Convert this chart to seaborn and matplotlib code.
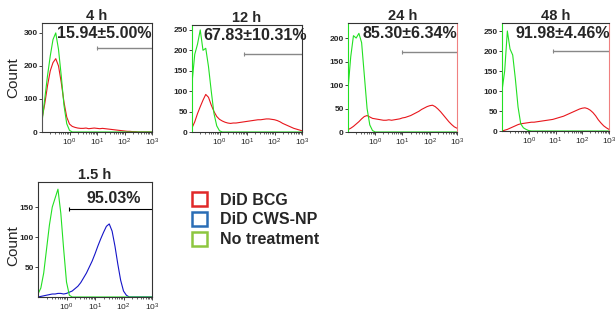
import numpy as np
import pandas as pd
import matplotlib.pyplot as plt
import seaborn as sns
from matplotlib.patches import Patch
from matplotlib.ticker import LogLocator, LogFormatterMathtext, FixedLocator

sns.set_theme(style='white')
plt.rcParams['font.family'] = ['Liberation Sans', 'DejaVu Sans']
plt.rcParams['mathtext.fontset'] = 'custom'
plt.rcParams['mathtext.rm'] = 'Liberation Sans'

# fluorescence bins, log10 units from -1 to 3 in 0.1 steps
log_bins = np.round(np.linspace(-1.0, 3.0, 41), 1)

titles = ['4 h', '12 h', '24 h', '48 h']
percent_labels = ['15.94\u00b15.00%', '67.83\u00b110.31%', '85.30\u00b16.34%', '91.98\u00b14.46%']

green_4h = [30, 100, 170, 230, 280, 300, 250, 170, 80, 25, 5] + [0] * 30
red_4h = [40, 85, 140, 185, 210, 222, 200, 150, 90, 45, 24, 17, 14, 12, 11, 11, 12, 10, 11, 12,
          11, 10, 11, 10, 9, 8, 7, 6, 5, 4, 3, 2, 2, 1, 1, 0, 0, 0, 0, 0, 0]
green_12h = [120, 190, 215, 250, 200, 205, 160, 100, 45, 15, 3] + [0] * 30
red_12h = [10, 25, 45, 62, 78, 92, 85, 66, 50, 38, 31, 27, 24, 22, 21, 22, 22, 23, 24, 25,
           26, 27, 28, 29, 30, 30, 31, 32, 32, 31, 30, 28, 25, 21, 18, 15, 12, 9, 7, 5, 3]
green_24h = [90, 160, 205, 200, 210, 190, 120, 50, 15, 3, 0] + [0] * 30
red_24h = [5, 8, 12, 17, 22, 28, 33, 35, 32, 29, 28, 27, 26, 25, 25, 26, 25, 26, 27, 28,
           30, 31, 33, 35, 38, 41, 44, 48, 51, 54, 56, 57, 54, 49, 43, 36, 29, 22, 16, 11, 8]
green_48h = [100, 150, 250, 205, 190, 130, 60, 18, 8, 4, 1] + [0] * 30
red_48h = [0, 2, 4, 7, 10, 13, 16, 18, 19, 20, 21, 22, 22, 23, 24, 25, 26, 27, 28, 29,
           31, 33, 35, 37, 40, 43, 46, 49, 52, 55, 57, 58, 56, 52, 46, 38, 28, 20, 13, 8, 4]

green_15h = [5, 15, 40, 80, 120, 150, 165, 180, 140, 80, 25, 3] + [0] * 29
blue_15h = [0, 1, 2, 3, 4, 5, 5, 6, 6, 5, 6, 8, 10, 14, 18, 24, 32, 40, 50, 60,
            72, 85, 97, 108, 118, 122, 110, 85, 55, 28, 10, 3, 0, 0, 0, 0, 0, 0, 0, 0, 0]

y_max = [330, 262, 232, 270]
y_ticks = [[0, 100, 200, 300], [0, 50, 100, 150, 200, 250], [0, 50, 100, 150, 200],
           [0, 50, 100, 150, 200, 250]]
gate_start = [1.0, 0.9, 1.0, 0.9]
gate_level = [255, 190, 170, 199]

green_top = [green_4h, green_12h, green_24h, green_48h]
red_top = [red_4h, red_12h, red_24h, red_48h]

RED = '#e8161c'
GREEN = '#22e022'
BLUE = '#1414c8'

fig = plt.figure(figsize=(6.15, 3.12), dpi=100)
W, H = 615, 312


def add_axes(l, r, t, b):
    return fig.add_axes([l / W, 1 - b / H, (r - l) / W, (b - t) / H])


def style_axes(ax, ymax, yticks):
    ax.set_xscale('log')
    ax.set_xlim(10 ** -1, 10 ** 3)
    ax.set_ylim(0, ymax)
    ax.xaxis.set_major_locator(FixedLocator([1, 10, 100, 1000]))
    ax.xaxis.set_major_formatter(LogFormatterMathtext())
    ax.xaxis.set_minor_locator(LogLocator(base=10, subs=np.arange(2, 10)))
    ax.yaxis.set_major_locator(FixedLocator(yticks))
    ax.tick_params(axis='x', labelsize=6, length=2, width=0.6, pad=1.5, bottom=True)
    ax.tick_params(axis='x', which='minor', length=1.2, width=0.5, bottom=True)
    ax.tick_params(axis='y', labelsize=6, length=2, width=0.6, pad=1, left=True)
    for lab in ax.get_yticklabels():
        lab.set_fontweight('bold')
    for s in ax.spines.values():
        s.set_linewidth(0.8)
        s.set_color('#333333')
    ax.set_xlabel('')
    ax.set_ylabel('')


boxes = [(42, 152, 23, 132), (192, 302, 25, 132), (348, 457, 23, 132), (502, 609, 23, 131)]
for i, box in enumerate(boxes):
    ax = add_axes(*box)
    df = pd.DataFrame({'x': 10 ** log_bins, 'green': green_top[i], 'red': red_top[i]})
    sns.lineplot(data=df, x='x', y='red', color=RED, lw=0.8, ax=ax)
    sns.lineplot(data=df, x='x', y='green', color=GREEN, lw=0.8, ax=ax)
    style_axes(ax, y_max[i], y_ticks[i])
    ax.spines['left'].set_color(GREEN if i > 0 else '#555555')
    if i >= 2:
        ax.spines['right'].set_color('#f08080')
    ax.set_title(titles[i], fontsize=10.5, fontweight='bold', pad=2)
    ax.plot([10 ** gate_start[i], 10 ** 3], [gate_level[i]] * 2, color='#888888', lw=1)
    ax.plot([10 ** gate_start[i]], [gate_level[i]], marker='|', color='#888888', ms=3, mew=0.8)
    ax.text(0.57, 0.9, percent_labels[i], transform=ax.transAxes, ha='center', va='center',
            fontsize=11.5, fontweight='bold')
    if i == 0:
        ax.set_ylabel('Count', fontsize=11)
        ax.yaxis.set_label_coords(-0.2, 0.5)

ax5 = add_axes(38, 152, 182, 297)
df5 = pd.DataFrame({'x': 10 ** log_bins, 'green': green_15h, 'blue': blue_15h})
sns.lineplot(data=df5, x='x', y='blue', color=BLUE, lw=0.8, ax=ax5)
sns.lineplot(data=df5, x='x', y='green', color=GREEN, lw=0.8, ax=ax5)
style_axes(ax5, 192, [50, 100, 150])
ax5.set_title('1.5 h', fontsize=10.5, fontweight='bold', pad=2)
ax5.plot([10 ** 0.1, 10 ** 3], [147, 147], color='black', lw=0.8)
ax5.plot([10 ** 0.1], [147], marker='|', color='black', ms=3, mew=0.8)
ax5.text(0.66, 0.86, '95.03%', transform=ax5.transAxes, ha='center', va='center',
         fontsize=11.5, fontweight='bold')
ax5.set_ylabel('Count', fontsize=11)
ax5.yaxis.set_label_coords(-0.16, 0.45)

handles = [Patch(facecolor='white', edgecolor='#e02828', lw=1.8, label='DiD BCG'),
           Patch(facecolor='white', edgecolor='#2a6db5', lw=1.8, label='DiD CWS-NP'),
           Patch(facecolor='white', edgecolor='#8dc63f', lw=1.8, label='No treatment')]
fig.legend(handles=handles, loc='upper left', bbox_to_anchor=(186 / W, 1 - 186 / H),
           frameon=False, prop={'size': 11.5, 'weight': 'bold'}, handlelength=0.9,
           handleheight=0.9, handletextpad=0.8, labelspacing=0.3, borderaxespad=0)

fig.savefig('out.png', dpi=100)
